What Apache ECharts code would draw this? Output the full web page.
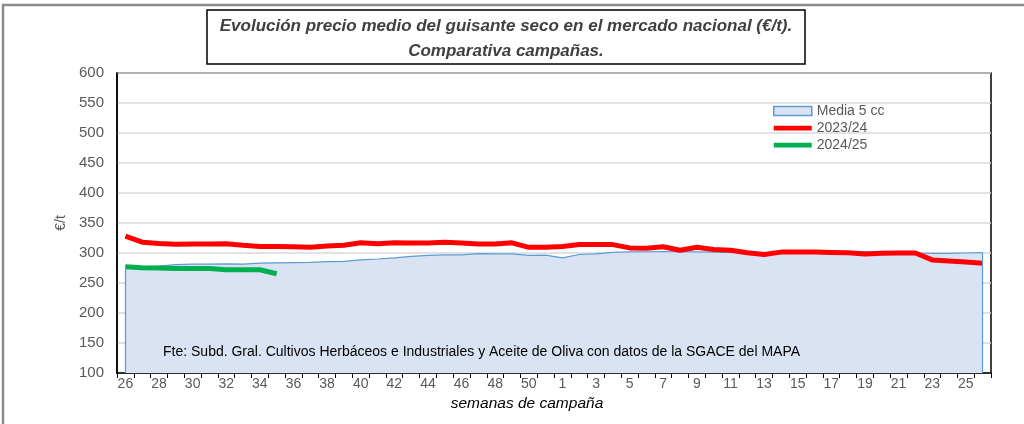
<!DOCTYPE html>
<html lang="es">
    <head>
        <meta charset="UTF-8">
        <title>Evolución precio medio del guisante seco</title>
        <script src="https://cdn.jsdelivr.net/npm/echarts@6/dist/echarts.min.js"></script>
        <style>
            html, body { margin: 0; padding: 0; background: #fff; }
            #chart { width: 1024px; height: 424px; }
        </style>
    </head>

    <body>
        <div id="chart"></div>

        <script>
            // semanas de campaña (26 a 51, luego 1 a 26)
            var semanas = ['26', '27', '28', '29', '30', '31', '32', '33', '34', '35', '36', '37', '38',
                '39', '40', '41', '42', '43', '44', '45', '46', '47', '48', '49', '50', '51',
                '1', '2', '3', '4', '5', '6', '7', '8', '9', '10', '11', '12', '13',
                '14', '15', '16', '17', '18', '19', '20', '21', '22', '23', '24', '25', '26'];

            // Media 5 campañas
            var media5 = [278, 277, 278, 280.5, 281.5, 281.5, 282, 281.5, 283, 283.5, 284, 284.5, 285.5,
                286, 288.5, 290, 292, 294.5, 296, 297, 297, 299, 298.5, 298.5, 296, 296.5,
                292, 297.5, 298.5, 301, 302, 302, 302.5, 302, 302, 301.5, 301, 300.5, 300,
                302, 302, 302, 302.5, 302.5, 302, 301, 300.5, 300, 299.5, 299.5, 300, 300.5];

            // campaña 2023/24
            var c2324 = [328, 318, 316, 314.5, 315, 315, 315.5, 313, 311, 311, 310.5, 309.5, 311.5,
                313, 317, 315.5, 317, 316.5, 316.5, 318, 316.5, 315, 315, 317, 309.5, 309.5,
                311, 314, 314, 314, 308.5, 308, 310.5, 304.5, 309.5, 306, 304.5, 300.5, 297.5,
                301.5, 301.5, 301.5, 301, 300.5, 298.5, 299.5, 300, 300, 288.5, 286.5, 285, 283];

            // campaña 2024/25 (hasta la semana 35)
            var c2425 = [277, 275.5, 275, 274, 274, 274, 272, 272, 272, 265.5];

            var yMin = 100, yMax = 600, yStep = 50;

            var fuente = 'Fte: Subd. Gral. Cultivos Herbáceos e Industriales y Aceite de Oliva con datos de la SGACE del MAPA';
            var fontFam = '"Liberation Sans", Arial, sans-serif';
            var ultimo = media5.length - 1;
            var iconoLinea = 'path://M0,0H40V5H0Z';

            var chart = echarts.init(document.getElementById('chart'), null, { renderer: 'canvas' });

            chart.setOption({
                animation: false,
                backgroundColor: '#fff',
                textStyle: { fontFamily: fontFam },
                grid: { left: 117, right: 33, top: 73, bottom: 51, show: true, borderColor: '#000', borderWidth: 1.5 },
                legend: {
                    orient: 'vertical',
                    left: 773,
                    top: 104,
                    padding: 0,
                    itemWidth: 38,
                    itemHeight: 9,
                    itemGap: 3,
                    symbolKeepAspect: true,
                    textStyle: { color: '#595959', fontSize: 14, fontFamily: fontFam, lineHeight: 14 },
                    data: [
                        { name: 'Media 5 cc', icon: 'rect', itemStyle: { color: '#dae3f3', borderColor: '#5b9bd5', borderWidth: 1.5 } },
                        { name: '2023/24', icon: iconoLinea, itemStyle: { color: '#ff0000' } },
                        { name: '2024/25', icon: iconoLinea, itemStyle: { color: '#00b050' } }
                    ]
                },
                xAxis: {
                    type: 'category',
                    data: semanas,
                    boundaryGap: true,
                    axisLine: { lineStyle: { color: '#000', width: 1.5 } },
                    axisTick: { show: true, interval: 0, length: 5, lineStyle: { color: '#000' } },
                    axisLabel: { interval: 1, color: '#595959', fontSize: 14, margin: 4, fontFamily: fontFam },
                    splitLine: { show: false }
                },
                yAxis: {
                    type: 'value',
                    min: yMin,
                    max: yMax,
                    interval: yStep,
                    name: '€/t',
                    nameLocation: 'middle',
                    nameGap: 47,
                    nameTextStyle: { color: '#595959', fontSize: 14, fontFamily: fontFam },
                    axisLine: { show: true, lineStyle: { color: '#000', width: 1.5 } },
                    axisTick: { show: false },
                    axisLabel: { color: '#595959', fontSize: 15, margin: 13, fontFamily: fontFam },
                    splitLine: { lineStyle: { color: '#d9d9d9', width: 1.5 } }
                },
                series: [
                    {
                        name: 'Media 5 cc',
                        type: 'line',
                        data: media5,
                        symbol: 'none',
                        lineStyle: { color: '#5b9bd5', width: 1.2 },
                        itemStyle: { color: '#5b9bd5' },
                        areaStyle: { color: '#dae3f3', opacity: 1, origin: 'start' },
                        markLine: {
                            silent: true,
                            symbol: 'none',
                            label: { show: false },
                            lineStyle: { color: '#5b9bd5', width: 1.2, type: 'solid' },
                            data: [
                                [{ coord: [0, yMin] }, { coord: [0, media5[0]] }],
                                [{ coord: [ultimo, yMin] }, { coord: [ultimo, media5[ultimo]] }]
                            ]
                        },
                        z: 1
                    },
                    {
                        name: '2023/24',
                        type: 'line',
                        data: c2324,
                        symbol: 'none',
                        lineStyle: { color: '#ff0000', width: 5 },
                        itemStyle: { color: '#ff0000' },
                        z: 3
                    },
                    {
                        name: '2024/25',
                        type: 'line',
                        data: c2425,
                        symbol: 'none',
                        lineStyle: { color: '#00b050', width: 5 },
                        itemStyle: { color: '#00b050' },
                        z: 4
                    }
                ],
                graphic: [
                    // marco exterior
                    { type: 'polyline', silent: true, shape: { points: [[3, 424], [3, 5], [1024, 5]] },
                      style: { stroke: '#8c8c8c', lineWidth: 2.5, fill: null } },
                    // caja del título
                    { type: 'rect', silent: true, shape: { x: 207, y: 10, width: 598, height: 54 },
                      style: { stroke: '#000', lineWidth: 1.5, fill: '#fff' } },
                    { type: 'text', silent: true, x: 506, y: 26,
                      style: { text: 'Evolución precio medio del guisante seco en el mercado nacional (€/t).', align: 'center', verticalAlign: 'middle',
                               fill: '#404040', font: 'italic bold 17px ' + fontFam } },
                    { type: 'text', silent: true, x: 506, y: 51,
                      style: { text: 'Comparativa campañas.', align: 'center', verticalAlign: 'middle',
                               fill: '#404040', font: 'italic bold 17px ' + fontFam } },
                    // fuente
                    { type: 'text', silent: true, x: 163, y: 352, z: 10,
                      style: { text: fuente, align: 'left', verticalAlign: 'middle', fill: '#000', font: '14px ' + fontFam } },
                    // título eje X
                    { type: 'text', silent: true, x: 527, y: 404,
                      style: { text: 'semanas de campaña', align: 'center', verticalAlign: 'middle', fill: '#000', font: 'italic 15.5px ' + fontFam } }
                ]
            });
        </script>
    </body>

</html>
